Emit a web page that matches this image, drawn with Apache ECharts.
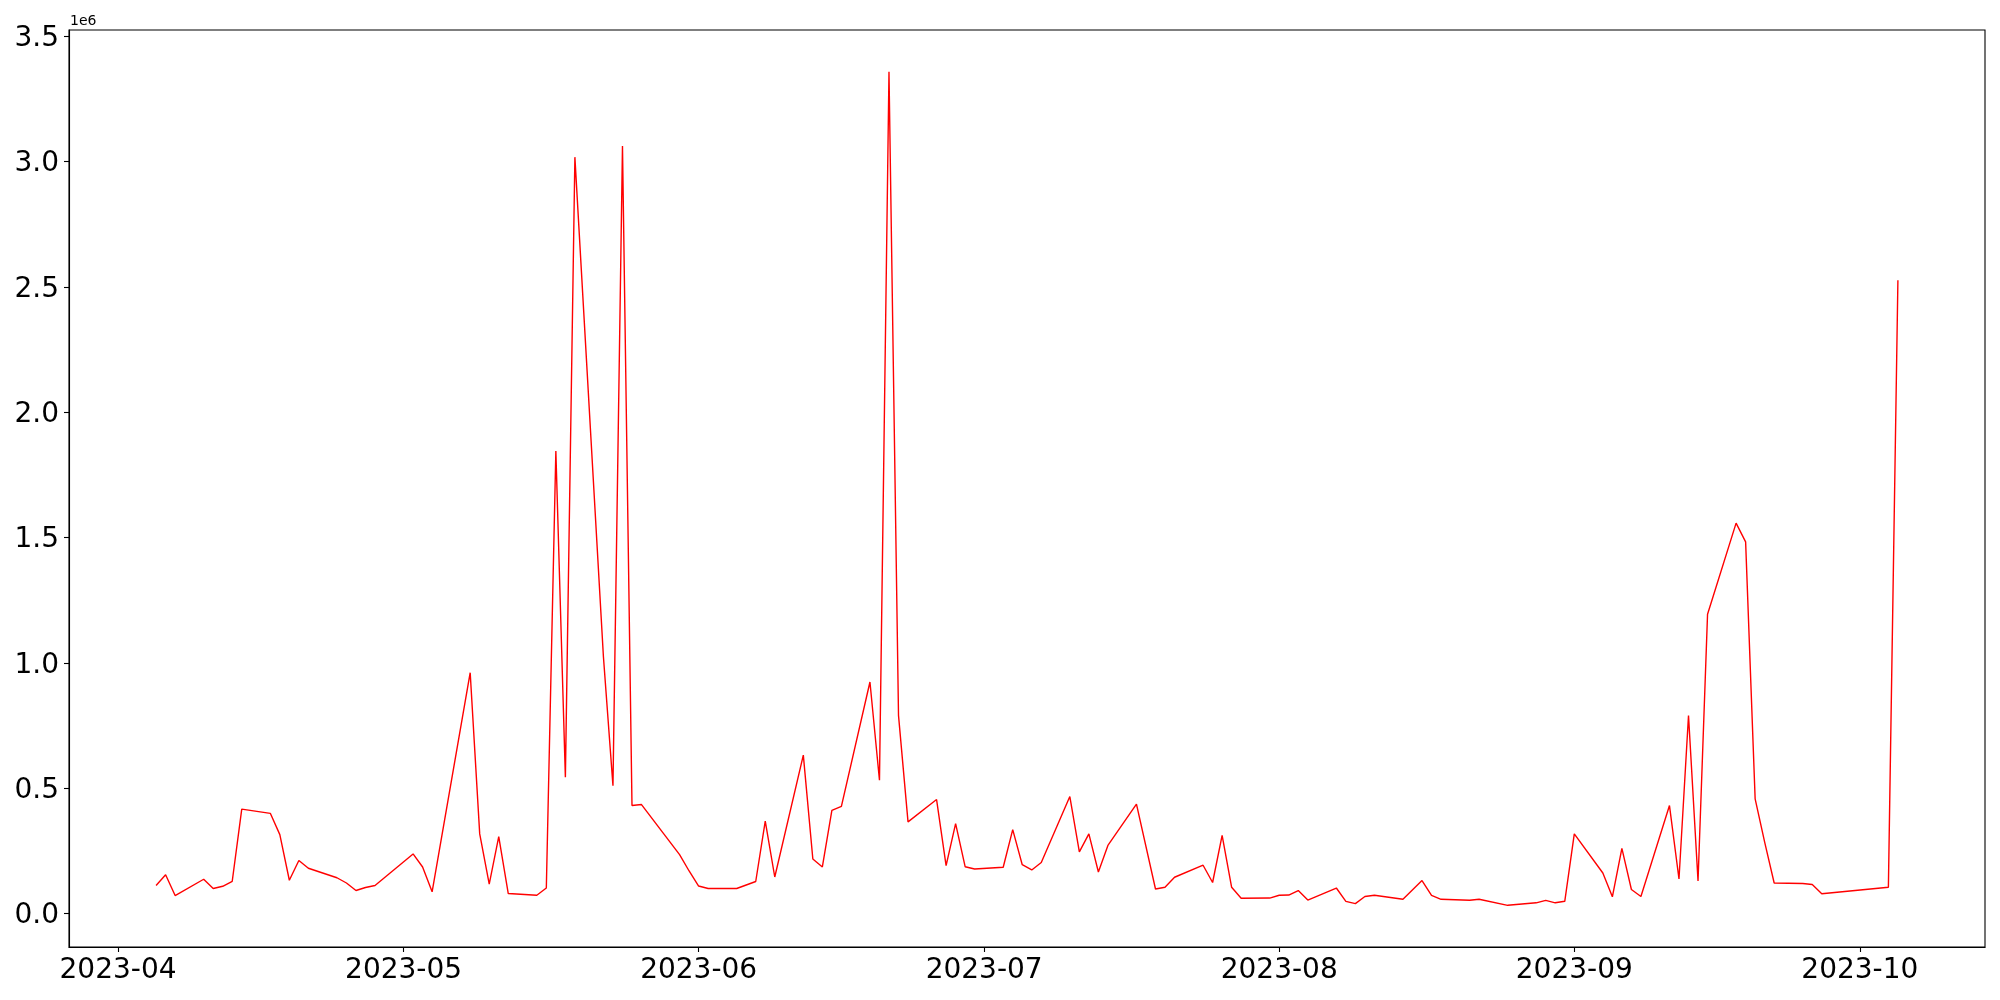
<!DOCTYPE html>
<html>
<head>
<meta charset="utf-8">
<script src="https://cdn.jsdelivr.net/npm/echarts@6/dist/echarts.min.js"></script>
<style>
  html, body { margin: 0; padding: 0; background: #fff; }
  #chart { width: 2000px; height: 1000px; }
</style>
</head>
<body>
<div id="chart"></div>
<script>
// ---- data ----
const dates = [
  '2023-04-05','2023-04-06','2023-04-07','2023-04-10','2023-04-11','2023-04-12','2023-04-13','2023-04-14',
  '2023-04-17','2023-04-18','2023-04-19','2023-04-20','2023-04-21','2023-04-24','2023-04-25','2023-04-26',
  '2023-04-27','2023-04-28','2023-05-02','2023-05-03','2023-05-04','2023-05-08','2023-05-09','2023-05-10',
  '2023-05-11','2023-05-12','2023-05-15','2023-05-16','2023-05-17','2023-05-18','2023-05-19','2023-05-22',
  '2023-05-23','2023-05-24','2023-05-25','2023-05-26','2023-05-30','2023-05-31','2023-06-01','2023-06-02',
  '2023-06-05','2023-06-07','2023-06-08','2023-06-09','2023-06-12','2023-06-13','2023-06-14','2023-06-15',
  '2023-06-16','2023-06-19','2023-06-20','2023-06-21','2023-06-22','2023-06-23','2023-06-26','2023-06-27',
  '2023-06-28','2023-06-29','2023-06-30','2023-07-03','2023-07-04','2023-07-05','2023-07-06','2023-07-07',
  '2023-07-10','2023-07-11','2023-07-12','2023-07-13','2023-07-14','2023-07-17','2023-07-19','2023-07-20',
  '2023-07-21','2023-07-24','2023-07-25','2023-07-26','2023-07-27','2023-07-28','2023-07-31','2023-08-01',
  '2023-08-02','2023-08-03','2023-08-04','2023-08-07','2023-08-08','2023-08-09','2023-08-10','2023-08-11',
  '2023-08-14','2023-08-16','2023-08-17','2023-08-18','2023-08-21','2023-08-22','2023-08-25','2023-08-28',
  '2023-08-29','2023-08-30','2023-08-31','2023-09-01','2023-09-04','2023-09-05','2023-09-06','2023-09-07',
  '2023-09-08','2023-09-11','2023-09-12','2023-09-13','2023-09-14','2023-09-15','2023-09-18','2023-09-19',
  '2023-09-20','2023-09-21','2023-09-22','2023-09-25','2023-09-26','2023-09-27','2023-10-04','2023-10-05'
];
const values = [
  112000,155000,72000,137000,100000,109000,129000,417000,
  400000,315000,133000,212000,181000,143000,122000,92000,
  104000,112000,238000,186000,87000,961000,318000,118000,
  307000,80000,73000,102000,1846000,544000,3018000,1024000,
  510000,3062000,431000,435000,235000,170000,110000,100000,
  100000,128000,369000,146000,632000,218000,186000,412000,
  428000,924000,532000,3359000,791000,366000,455000,191000,
  359000,187000,178000,185000,335000,195000,174000,204000,
  467000,246000,318000,166000,272000,437000,98000,105000,
  145000,193000,124000,312000,105000,61000,62000,73000,
  74000,92000,54000,102000,49000,40000,68000,73000,
  57000,132000,73000,57000,53000,57000,33000,43000,
  53000,43000,49000,318000,162000,67000,260000,96000,
  68000,431000,138000,790000,130000,1194000,1558000,1483000,
  458000,285000,122000,120000,116000,79000,105000,2527000
];
const xTickLabels = ['2023-04','2023-05','2023-06','2023-07','2023-08','2023-09','2023-10'];
const yTickValues = [0, 500000, 1000000, 1500000, 2000000, 2500000, 3000000, 3500000];
const yOffsetLabel = '1e6';

// ---- build ----
function ts(s) {
  const p = s.split('-').map(Number);
  return Date.UTC(p[0], p[1] - 1, p[2] || 1);
}
const seriesData = dates.map((d, i) => [ts(d), values[i]]);
const xs = seriesData.map(p => p[0]);
const xMinD = Math.min(...xs), xMaxD = Math.max(...xs);
const yMinD = Math.min(...values), yMaxD = Math.max(...values);
const xPad = (xMaxD - xMinD) * 0.05, yPad = (yMaxD - yMinD) * 0.05;
const xTickValues = xTickLabels.map(ts);

const FONT = 'DejaVu Sans';
const chart = echarts.init(document.getElementById('chart'), null, { renderer: 'canvas' });
chart.setOption({
  animation: false,
  backgroundColor: '#ffffff',
  grid: {
    left: 69, right: 15, top: 30, bottom: 53,
    containLabel: false, outerBoundsMode: 'none',
    show: true, borderColor: '#000', borderWidth: 1.1, backgroundColor: 'transparent'
  },
  graphic: [{
    type: 'text', left: 70, top: 14,
    style: { text: yOffsetLabel, fontFamily: FONT, fontSize: 14, fill: '#000' }
  }],
  xAxis: {
    type: 'value',
    min: xMinD - xPad, max: xMaxD + xPad,
    splitLine: { show: false },
    axisLine: { show: true, onZero: false, lineStyle: { color: '#000', width: 1.1 } },
    axisTick: { show: true, length: 5, lineStyle: { color: '#000', width: 1.1 }, customValues: xTickValues },
    axisLabel: {
      customValues: xTickValues,
      margin: 10, fontFamily: FONT, fontSize: 28, color: '#000',
      formatter: function (v) {
        const i = xTickValues.indexOf(v);
        if (i >= 0) return xTickLabels[i];
        const d = new Date(v);
        return d.getUTCFullYear() + '-' + String(d.getUTCMonth() + 1).padStart(2, '0');
      }
    }
  },
  yAxis: {
    type: 'value',
    min: yMinD - yPad, max: yMaxD + yPad,
    splitLine: { show: false },
    axisLine: { show: true, onZero: false, lineStyle: { color: '#000', width: 1.1 } },
    axisTick: { show: true, length: 5, lineStyle: { color: '#000', width: 1.1 }, customValues: yTickValues },
    axisLabel: {
      customValues: yTickValues,
      margin: 10, fontFamily: FONT, fontSize: 28, color: '#000',
      formatter: function (v) { return '{t|' + (v / 1e6).toFixed(1) + '}'; },
      rich: {
        t: { fontFamily: FONT, fontSize: 28, color: '#000', padding: [5, 0, 0, 0] }
      }
    }
  },
  series: [{
    type: 'line',
    data: seriesData,
    showSymbol: false,
    symbol: 'none',
    lineStyle: { color: '#ff0000', width: 1.4 },
    itemStyle: { color: '#ff0000' }
  }]
});
</script>
</body>
</html>
